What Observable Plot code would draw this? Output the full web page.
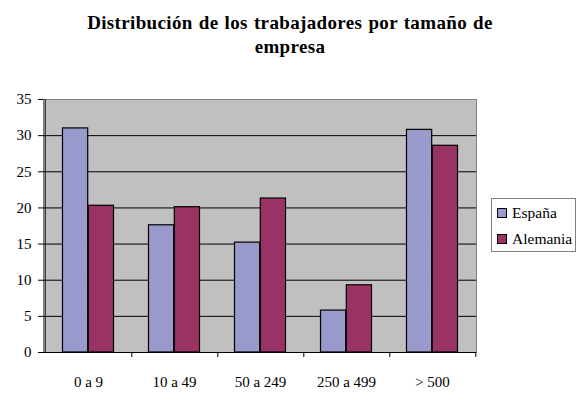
<!DOCTYPE html>
<html>
<head>
<meta charset="utf-8">
<script src="https://cdn.jsdelivr.net/npm/d3@7"></script>
<script src="https://cdn.jsdelivr.net/npm/@observablehq/plot@0.6"></script>
<style>
  html, body { margin: 0; padding: 0; background: #ffffff; font-family: 'Liberation Serif', 'Times New Roman', serif; }
  #wrap { position: relative; width: 580px; height: 404px; background: #ffffff; overflow: hidden; }
  #title {
    height: 70px; box-sizing: border-box; padding-top: 11px;
    font-family: 'Liberation Serif', 'Times New Roman', serif; font-weight: bold;
    font-size: 19px; line-height: 24px; text-align: center; color: #000;
    letter-spacing: 0.35px; word-spacing: 1px;
  }
  #legend {
    position: absolute; left: 491px; top: 198px; width: 85px; height: 54px;
    box-sizing: border-box; border: 1px solid #808080; background: #fff;
    font-family: 'Liberation Serif', 'Times New Roman', serif; font-size: 15.5px; color: #000;
  }
  .item { position: absolute; left: 5px; height: 18px; line-height: 18px; white-space: nowrap; }
  .sw { display: inline-block; width: 8px; height: 8px; border: 1px solid #000; margin-right: 5px; vertical-align: 0px; }
</style>
</head>
<body>
<div id="wrap">
  <div id="title">Distribución de los trabajadores por tamaño de<br>empresa</div>
  <div id="chart"></div>
  <div id="legend"></div>
</div>
<script>
const categorias = ["0 a 9", "10 a 49", "50 a 249", "250 a 499", "> 500"];
const espana = [31.0, 17.6, 15.2, 5.8, 30.8];
const alemania = [20.3, 20.1, 21.3, 9.3, 28.6];
const series = ["España", "Alemania"];
const colores = ["#9999CC", "#993366"];
const yTicks = [0, 5, 10, 15, 20, 25, 30, 35];

const W = 580, H = 334, mL = 43, mR = 104, mT = 29, mB = 52;
const bw = (W - mL - mR) / categorias.length;
const half = bw / 2;
const outer = 17.5;

const dataE = categorias.map((c, i) => ({cat: c, v: espana[i]}));
const dataA = categorias.map((c, i) => ({cat: c, v: alemania[i]}));

const font = "'Liberation Serif', 'Times New Roman', serif";

const plot = Plot.plot({
  width: W, height: H,
  marginLeft: mL, marginRight: mR, marginTop: mT, marginBottom: mB,
  style: {fontFamily: font, fontSize: "15px", color: "#000", background: "#fff", overflow: "visible"},
  x: {type: "band", domain: categorias, padding: 0, label: null},
  y: {domain: [0, 35], ticks: yTicks, label: null},
  marks: [
    Plot.frame({fill: "#C0C0C0", stroke: "#808080"}),
    Plot.ruleY(yTicks.filter(t => t > 0 && t < 35), {stroke: "#000", strokeWidth: 1}),
    Plot.barY(dataE, {x: "cat", y: "v", fill: colores[0], stroke: "#000", strokeWidth: 1.2,
      insetLeft: outer, insetRight: half}),
    Plot.barY(dataA, {x: "cat", y: "v", fill: colores[1], stroke: "#000", strokeWidth: 1.2,
      insetLeft: half, insetRight: outer}),
    Plot.ruleY([0], {stroke: "#000"}),
    Plot.ruleX([categorias[0]], {dx: -half, stroke: "#000"}),
    Plot.axisY({ticks: yTicks, tickSize: 5, tickPadding: 7, fontSize: 15, label: null, stroke: "#000", fill: "#000"}),
    Plot.axisX({tickSize: 5, text: null, dx: half, stroke: "#000"}),
    Plot.axisX({tickSize: 0, tickPadding: 24, fontSize: 15, label: null, fill: "#000"})
  ]
});
document.getElementById("chart").appendChild(plot);

const legend = document.getElementById("legend");
series.forEach((s, i) => {
  const it = document.createElement("div");
  it.className = "item";
  it.style.top = (5 + i * 26) + "px";
  const sw = document.createElement("span");
  sw.className = "sw";
  sw.style.background = colores[i];
  it.appendChild(sw);
  it.appendChild(document.createTextNode(s));
  legend.appendChild(it);
});
</script>
</body>
</html>
